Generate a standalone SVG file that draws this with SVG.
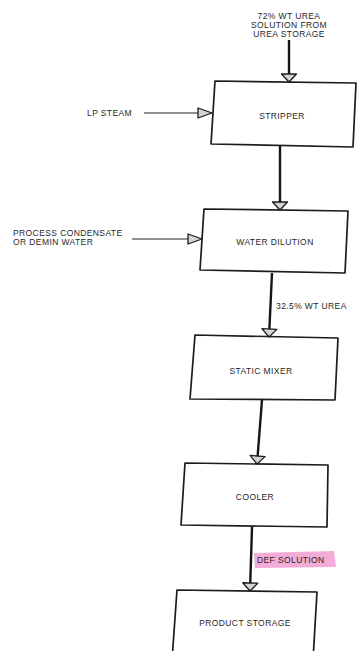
<svg xmlns="http://www.w3.org/2000/svg" width="364" height="651" viewBox="0 0 364 651">
  <style>
    .box { fill: #ffffff; stroke: #1c1c1c; stroke-width: 1.7; stroke-linejoin: round; }
    .lbl { font-family: "Liberation Sans", Arial, sans-serif; font-size: 8.5px; fill: #262626; letter-spacing: 0.4px; }
    .mid { text-anchor: middle; }
    .flow { stroke: #161616; stroke-width: 2.4; fill: none; }
    .feed { stroke: #222222; stroke-width: 1.2; fill: none; }
    .head { fill: #d4d4d4; stroke: #1c1c1c; stroke-width: 1.3; stroke-linejoin: round; }
  </style>
  <defs>
    <!-- wide, short hollow head on the main vertical streams -->
    <marker id="arrowDown" markerWidth="14" markerHeight="18" refX="10" refY="9" orient="auto" markerUnits="userSpaceOnUse">
      <path d="M2,1.5 L10,9 L2,16.5 Z" class="head"/>
    </marker>
    <!-- hollow head on the side feeds -->
    <marker id="arrowSide" markerWidth="18" markerHeight="14" refX="16" refY="7" orient="auto" markerUnits="userSpaceOnUse">
      <path d="M2,2 L16,7 L2,12 Z" class="head"/>
    </marker>
  </defs>

  <rect width="364" height="651" fill="#ffffff"/>

  <!-- process units -->
  <g id="stripper">
    <polygon class="box" points="215,81 356,83 353,147 211,144"/>
    <text class="lbl mid" x="282" y="119">STRIPPER</text>
  </g>
  <g id="water-dilution">
    <polygon class="box" points="204,209 348,211 345,273 200,270"/>
    <text class="lbl mid" x="275" y="245">WATER DILUTION</text>
  </g>
  <g id="static-mixer">
    <polygon class="box" points="195,335 338,338 335,400 190,399"/>
    <text class="lbl mid" x="261" y="374">STATIC MIXER</text>
  </g>
  <g id="cooler">
    <polygon class="box" points="185,463 328,465 327,527 181,525"/>
    <text class="lbl mid" x="255" y="500">COOLER</text>
  </g>
  <g id="product-storage">
    <polygon class="box" points="177,590 317,592 313,660 172,660"/>
    <text class="lbl mid" x="245" y="626">PRODUCT STORAGE</text>
  </g>

  <!-- stream lines -->
  <g id="connectors">
    <line class="flow" x1="289" y1="40" x2="289" y2="82" marker-end="url(#arrowDown)"/>
    <line class="feed" x1="144" y1="113" x2="212" y2="113" marker-end="url(#arrowSide)"/>
    <line class="flow" x1="280" y1="146" x2="280" y2="210" marker-end="url(#arrowDown)"/>
    <line class="feed" x1="132" y1="239" x2="202" y2="239" marker-end="url(#arrowSide)"/>
    <line class="flow" x1="272" y1="273" x2="269" y2="337" marker-end="url(#arrowDown)"/>
    <line class="flow" x1="262" y1="400" x2="257" y2="464" marker-end="url(#arrowDown)"/>
    <line class="flow" x1="252" y1="527" x2="250" y2="591" marker-end="url(#arrowDown)"/>
  </g>

  <!-- stream labels -->
  <g id="feed-label">
    <text class="lbl mid" x="289" y="19">72% WT UREA</text>
    <text class="lbl mid" x="289" y="28">SOLUTION FROM</text>
    <text class="lbl mid" x="289" y="37">UREA STORAGE</text>
  </g>
  <g id="steam-label">
    <text class="lbl" x="87" y="116">LP STEAM</text>
  </g>
  <g id="condensate-label">
    <text class="lbl" x="13" y="236">PROCESS CONDENSATE</text>
    <text class="lbl" x="13" y="245">OR DEMIN WATER</text>
  </g>
  <g id="dilute-label">
    <text class="lbl" x="276" y="309">32.5% WT UREA</text>
  </g>
  <g id="def-label">
    <path d="M254,553 L334,551 L336,567 L255,568 Z" fill="#f2a2d4" opacity="0.9"/>
    <text class="lbl" x="257" y="563">DEF SOLUTION</text>
  </g>
</svg>
